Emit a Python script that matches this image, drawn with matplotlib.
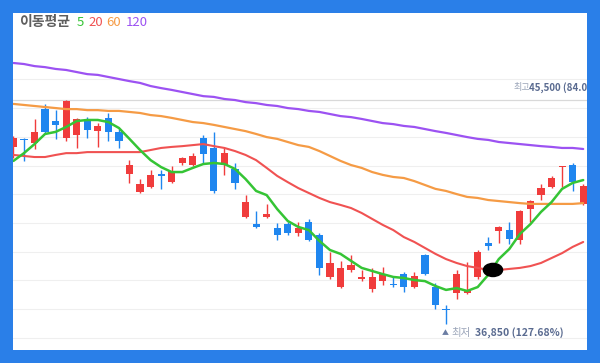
import matplotlib
matplotlib.use('Agg')
import matplotlib.pyplot as plt
from matplotlib.patches import Ellipse
import numpy as np

FONT = ['Noto Sans CJK KR', 'DejaVu Sans']
plt.rcParams['font.family'] = FONT

# ---------------- data ----------------
days = list(range(-1, 54))

opens = [43700, 44000, 43850, 45150, 44700, 44050, 44150, 44750, 44300, 44800, 44250,
         42650, 41950, 42150, 42650, 42350, 43050, 43000, 44050, 43650, 43000, 42850,
         41000, 40700, 41000, 40550, 40700, 40350, 40800, 40300, 38650, 38300, 38950,
         38600, 38200, 38500, 38400, 38800, 38300, 39500, 38300, 37450, 38050, 38050,
         38650, 40000, 40450, 40500, 40100, 41300, 41850, 42150, 42900, 43000, 41500]
closes = [44050, 43950, 44250, 44250, 44550, 45450, 44750, 44350, 44500, 44250, 43900,
          43000, 42250, 42600, 42550, 42750, 43250, 43350, 43400, 42000, 43450, 42300,
          41550, 40600, 41100, 40300, 40350, 40550, 40100, 39000, 39200, 39000, 39150,
          38650, 38650, 38800, 38350, 38300, 38700, 38800, 37600, 37400, 38800, 38150,
          39650, 39850, 40600, 40150, 41200, 41600, 42100, 42500, 42950, 42350, 42200]
highs = [44100, 44050, 44750, 45350, 45100, 45500, 44800, 44850, 44600, 45000, 44400,
         43200, 42450, 42800, 42800, 42950, 43300, 43450, 44150, 44250, 43650, 43050,
         41850, 41200, 41500, 40750, 40800, 40800, 40900, 40350, 39650, 39300, 39500,
         38950, 39000, 39050, 38650, 38850, 38850, 39550, 38450, 37600, 38950, 39250,
         39700, 40200, 40650, 40800, 41250, 41650, 42250, 42550, 42950, 43050, 42250]
lows = [43250, 43150, 43600, 44200, 44000, 43900, 43650, 44050, 43700, 43900, 43650,
        42300, 41900, 42100, 42050, 42300, 43000, 42950, 43050, 41900, 42600, 42050,
        40950, 40550, 40950, 40100, 40300, 40250, 40050, 38750, 38600, 38250, 38850,
        38500, 38100, 38350, 38300, 38100, 38250, 38750, 37450, 36850, 37800, 38000,
        38600, 39700, 40000, 39950, 39950, 40800, 41650, 42100, 42150, 42000, 41450]

ma5 = [43150, 43450, 43800, 44190, 44270, 44460, 44690, 44730, 44730, 44650, 44420,
       44000, 43570, 43180, 42910, 42720, 42720, 42880, 43030, 43070, 43030, 42840,
       42450, 41990, 41830, 41290, 40830, 40600, 40480, 40060, 39710, 39560, 39290,
       39020, 38900, 38780, 38670, 38630, 38550, 38510, 38320, 38170, 38240, 38130,
       38280, 38750, 39360, 39750, 40330, 40710, 41180, 41560, 42070, 42300, 42410]
ma20 = [43380, 43340, 43300, 43300, 43380, 43450, 43450, 43490, 43490, 43490, 43490,
        43490, 43490, 43570, 43650, 43690, 43720, 43760, 43800, 43720, 43650, 43530,
        43380, 43180, 42880, 42570, 42330, 42100, 41910, 41720, 41560, 41450, 41330,
        41140, 40910, 40680, 40480, 40210, 40020, 39790, 39560, 39360, 39210, 39090,
        39020, 38940, 38940, 38980, 39020, 39090, 39210, 39400, 39590, 39830, 40020]
ma60 = [45350, 45310, 45270, 45230, 45190, 45150, 45150, 45110, 45110, 45080, 45080,
        45040, 45000, 44920, 44880, 44810, 44730, 44650, 44610, 44540, 44460, 44380,
        44300, 44190, 44070, 44000, 43880, 43760, 43690, 43530, 43340, 43150, 42990,
        42880, 42720, 42610, 42530, 42490, 42370, 42220, 42070, 41990, 41870, 41760,
        41720, 41640, 41600, 41560, 41520, 41490, 41490, 41490, 41490, 41490, 41520]
ma120 = [46930, 46890, 46810, 46770, 46700, 46660, 46580, 46500, 46470, 46390, 46310,
         46230, 46160, 46040, 45960, 45890, 45810, 45730, 45650, 45620, 45540, 45500,
         45420, 45380, 45310, 45270, 45190, 45150, 45080, 45040, 44960, 44880, 44840,
         44770, 44690, 44610, 44570, 44500, 44460, 44380, 44300, 44230, 44150, 44070,
         44000, 43960, 43880, 43840, 43800, 43760, 43720, 43690, 43650, 43650, 43610]

grid_levels = [46310, 45190, 44070, 42950, 41870, 40750, 39630, 38550, 37430, 36310]
high_price = 45500
low_price = 36850
high_label = "45,500 (84.07%)"
low_label = "36,850 (127.68%)"
legend_periods = ["5", "20", "60", "120"]

UP = '#f03c3c'
DOWN = '#1f86ef'
MA_COLORS = ['#35c435', '#f05252', '#f59b45', '#9c52f2']
BORDER = '#2a7fe8'

# ---------------- figure ----------------
W, H = 600, 363
fig = plt.figure(figsize=(W / 100, H / 100), dpi=100, facecolor=BORDER)
ax = fig.add_axes([13 / W, 13 / H, 574 / W, 337 / H])
ax.set_facecolor('white')
ax.set_xlim(-1.04, 53.36)
ax.set_ylim(35850, 48860)
for s in ax.spines.values():
    s.set_visible(False)
ax.set_xticks([])
ax.set_yticks([])

for g in grid_levels:
    ax.axhline(g, color='#efefef', lw=0.8, zorder=0)
ax.axhline(high_price, color='#d9d9d9', lw=0.9, zorder=0)

o = np.array(opens); c = np.array(closes)
hi = np.array(highs); lo = np.array(lows)
x = np.array(days)
cols = [UP if cc > oo else DOWN for oo, cc in zip(o, c)]
ax.vlines(x, lo, hi, colors=cols, lw=1.0, zorder=2)
body_bottom = np.minimum(o, c)
body_h = np.maximum(np.abs(c - o), 45)
ax.bar(x, body_h, bottom=body_bottom, width=0.68, color=cols, zorder=2, linewidth=0)

for ma, col, lw in zip([ma120, ma60, ma20, ma5], MA_COLORS[::-1], [1.6, 1.6, 1.5, 1.8]):
    ax.plot(x, ma, color=col, lw=lw, zorder=3, solid_capstyle='round')

# black redaction blob
ax.add_patch(Ellipse((44.45, 38940), 1.95, 560, facecolor='black', edgecolor='none', zorder=5))

# legend row
def ftxt(px, py, s, **kw):
    fig.text(px / W, 1 - py / H, s, va='center', ha='left', family=FONT, **kw)

ftxt(19, 22, '이동평균', color='#5e5e5e', fontsize=10, fontweight='bold')
for px, lab, col in zip([77, 88, 106, 126], legend_periods, MA_COLORS):
    ftxt(px, 22, lab, color=col, fontsize=9.5, fontweight='medium')

# high / low annotations (axes coords, clipped like the reference)
def atxt(px, py, s, **kw):
    ax.text((px - 13) / 574, (350 - py) / 337, s, transform=ax.transAxes, va='center',
            ha='left', family=FONT, clip_on=True, **kw)

atxt(514, 88, '최고', color='#9aa4b8', fontsize=6.5)
atxt(529, 88, high_label, color='#5a6b90', fontsize=7, fontweight='bold')
atxt(442, 333, '▲', color='#6b7da3', fontsize=5)
atxt(451, 333, '최저', color='#9aa4b8', fontsize=7.5)
atxt(475, 333, low_label, color='#5a6b90', fontsize=7.5, fontweight='bold')

fig.savefig('out.png', dpi=100, facecolor=BORDER)
